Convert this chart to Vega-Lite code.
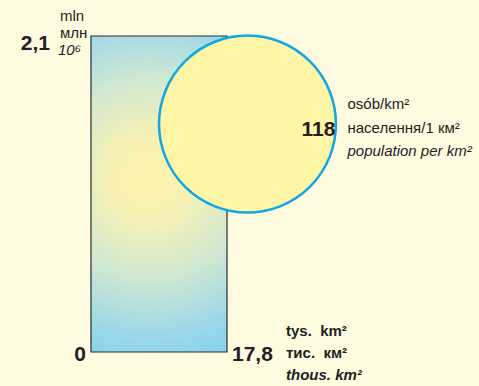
{
  "$schema": "https://vega.github.io/schema/vega-lite/v6.json",
  "width": 479,
  "height": 386,
  "autosize": "none",
  "padding": 0,
  "background": "#fffbe0",
  "config": {"view": {"stroke": null}, "text": {"font": "Liberation Sans Narrow, Liberation Sans, Arial", "color": "#231f20", "baseline": "middle"}},
  "datasets": {
    "area": [{"territory": 17.8, "territoryLabel": "17,8", "population": 2.1, "populationLabel": "2,1", "zero": 0}],
    "density": [{"cx": 20.48, "cy": 1.515, "density": 118, "densityLabel": "118"}]
  },
  "layer": [
    {
      "data": {"name": "area"},
      "mark": {"type": "rect", "stroke": "#2b2b2b", "strokeWidth": 1.2,
        "fill": {"gradient": "radial", "x1": 0.47, "y1": 0.45, "x2": 0.47, "y2": 0.45, "r1": 0, "r2": 0.58,
          "stops": [{"offset": 0, "color": "#fdf4ae"}, {"offset": 0.2, "color": "#f8f2b2"}, {"offset": 0.55, "color": "#cfe8d2"}, {"offset": 0.85, "color": "#9dd8e8"}, {"offset": 1, "color": "#8bd3f0"}]}},
      "encoding": {
        "x": {"field": "zero", "type": "quantitative", "scale": {"domain": [0, 17.8], "range": [91, 227], "zero": false, "nice": false}, "axis": null},
        "x2": {"field": "territory"},
        "y": {"field": "zero", "type": "quantitative", "scale": {"domain": [0, 2.1], "range": [352, 36], "zero": false, "nice": false}, "axis": null},
        "y2": {"field": "population"}
      }
    },
    {
      "data": {"name": "density"},
      "mark": {"type": "point", "shape": "circle", "filled": false, "fill": "#fff5a6", "fillOpacity": 1, "stroke": "#12a6e2", "strokeWidth": 2.5, "opacity": 1},
      "encoding": {
        "x": {"field": "cx", "type": "quantitative"},
        "y": {"field": "cy", "type": "quantitative"},
        "size": {"field": "density", "type": "quantitative", "scale": {"domain": [0, 118], "range": [0, 31300]}, "legend": null}
      }
    },
    {
      "data": {"name": "area"},
      "mark": {"type": "text", "fontSize": 21, "fontWeight": "bold", "align": "right", "dx": -41, "dy": 8},
      "encoding": {"x": {"field": "zero", "type": "quantitative"}, "y": {"field": "population", "type": "quantitative"}, "text": {"field": "populationLabel"}}
    },
    {
      "data": {"name": "area"},
      "mark": {"type": "text", "fontSize": 15, "align": "left", "dx": -31, "dy": -20, "text": "mln"},
      "encoding": {"x": {"field": "zero", "type": "quantitative"}, "y": {"field": "population", "type": "quantitative"}}
    },
    {
      "data": {"name": "area"},
      "mark": {"type": "text", "fontSize": 15, "align": "left", "dx": -31, "dy": -3, "text": "млн"},
      "encoding": {"x": {"field": "zero", "type": "quantitative"}, "y": {"field": "population", "type": "quantitative"}}
    },
    {
      "data": {"name": "area"},
      "mark": {"type": "text", "fontSize": 15, "fontStyle": "italic", "align": "left", "dx": -33, "dy": 14, "text": "10⁶"},
      "encoding": {"x": {"field": "zero", "type": "quantitative"}, "y": {"field": "population", "type": "quantitative"}}
    },
    {
      "data": {"name": "area"},
      "mark": {"type": "text", "fontSize": 21, "fontWeight": "bold", "align": "right", "dx": -5, "dy": 3, "text": "0"},
      "encoding": {"x": {"field": "zero", "type": "quantitative"}, "y": {"field": "zero", "type": "quantitative"}}
    },
    {
      "data": {"name": "area"},
      "mark": {"type": "text", "fontSize": 21, "fontWeight": "bold", "align": "left", "dx": 5, "dy": 3},
      "encoding": {"x": {"field": "territory", "type": "quantitative"}, "y": {"field": "zero", "type": "quantitative"}, "text": {"field": "territoryLabel"}}
    },
    {
      "data": {"name": "area"},
      "mark": {"type": "text", "fontSize": 15, "fontWeight": "bold", "align": "left", "dx": 59, "dy": -21, "text": "tys.\u00a0 km²"},
      "encoding": {"x": {"field": "territory", "type": "quantitative"}, "y": {"field": "zero", "type": "quantitative"}}
    },
    {
      "data": {"name": "area"},
      "mark": {"type": "text", "fontSize": 15, "fontWeight": "bold", "align": "left", "dx": 59, "dy": 1, "text": "тис.\u00a0 км²"},
      "encoding": {"x": {"field": "territory", "type": "quantitative"}, "y": {"field": "zero", "type": "quantitative"}}
    },
    {
      "data": {"name": "area"},
      "mark": {"type": "text", "fontSize": 15, "fontWeight": "bold", "fontStyle": "italic", "align": "left", "dx": 59, "dy": 23, "text": "thous. km²"},
      "encoding": {"x": {"field": "territory", "type": "quantitative"}, "y": {"field": "zero", "type": "quantitative"}}
    },
    {
      "data": {"name": "density"},
      "mark": {"type": "text", "fontSize": 21, "fontWeight": "bold", "align": "right", "dx": 88, "dy": 6},
      "encoding": {"x": {"field": "cx", "type": "quantitative"}, "y": {"field": "cy", "type": "quantitative"}, "text": {"field": "densityLabel"}}
    },
    {
      "data": {"name": "density"},
      "mark": {"type": "text", "fontSize": 15, "align": "left", "dx": 100, "dy": -20, "text": "osób/km²"},
      "encoding": {"x": {"field": "cx", "type": "quantitative"}, "y": {"field": "cy", "type": "quantitative"}}
    },
    {
      "data": {"name": "density"},
      "mark": {"type": "text", "fontSize": 15, "align": "left", "dx": 100, "dy": 4, "text": "населення/1 км²"},
      "encoding": {"x": {"field": "cx", "type": "quantitative"}, "y": {"field": "cy", "type": "quantitative"}}
    },
    {
      "data": {"name": "density"},
      "mark": {"type": "text", "fontSize": 15, "fontStyle": "italic", "align": "left", "dx": 100, "dy": 27, "text": "population per km²"},
      "encoding": {"x": {"field": "cx", "type": "quantitative"}, "y": {"field": "cy", "type": "quantitative"}}
    }
  ]
}
